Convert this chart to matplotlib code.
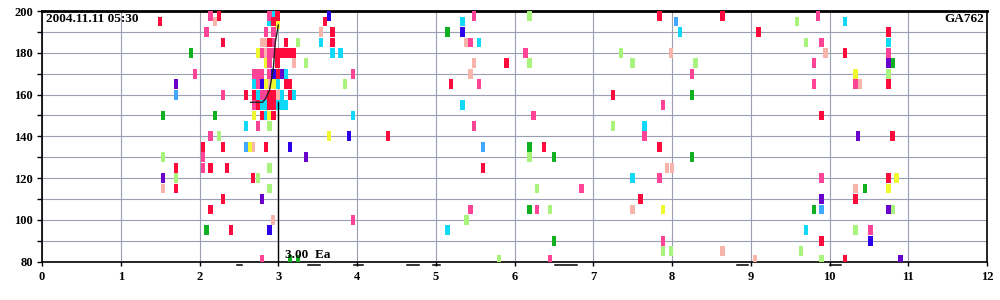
import matplotlib
matplotlib.use("Agg")
import matplotlib.pyplot as plt

# (frequency MHz, virtual height km) of each echo, grouped by colour
red = [(1.50, 195), (2.25, 197.5), (2.30, 185), (2.04, 135), (2.30, 135), (1.70, 125),
       (2.14, 125), (2.35, 125), (1.70, 115), (2.30, 110), (2.14, 105), (2.40, 95), (2.84, 135),
       (2.99, 197.5), (2.94, 195), (2.89, 185), (3.10, 185),
       (2.99, 180), (3.05, 180), (3.10, 180), (3.15, 180), (3.20, 180),
       (2.99, 175), (2.99, 170), (3.10, 165), (3.15, 165),
       (2.59, 160), (2.69, 160), (2.89, 160), (2.94, 160), (3.15, 160),
       (2.74, 155), (2.89, 155), (2.94, 155), (2.79, 150), (2.94, 150), (2.68, 120),
       (3.59, 195), (3.69, 190), (3.69, 185), (4.39, 140), (5.19, 165), (5.90, 175),
       (5.60, 125), (6.37, 135), (7.25, 160), (7.84, 197.5), (7.84, 135), (7.60, 110),
       (8.64, 197.5), (9.10, 190), (10.75, 190), (10.20, 180), (10.75, 165), (9.90, 150),
       (10.80, 140), (10.75, 120), (10.33, 110), (9.90, 90), (10.20, 81)]
pink = [(2.14, 197.5), (2.09, 190), (1.94, 170), (2.30, 160), (2.14, 140), (2.04, 130),
        (2.04, 125), (2.79, 81), (2.89, 197.5), (2.84, 190), (2.94, 190), (2.94, 185),
        (2.79, 180), (2.89, 180), (2.94, 180), (2.89, 175), (2.69, 170), (2.74, 170),
        (2.79, 170), (2.89, 170), (2.74, 165), (2.79, 160), (2.84, 160), (2.69, 155),
        (2.74, 145), (3.95, 170), (3.95, 100), (5.44, 105), (5.49, 197.5), (5.44, 185),
        (5.55, 165), (6.14, 180), (7.89, 155), (6.24, 150), (5.49, 145), (7.65, 140),
        (7.84, 120), (6.85, 115), (6.29, 105), (7.89, 90), (6.45, 81), (9.85, 197.5),
        (9.90, 185), (10.75, 180), (8.25, 170), (9.80, 175), (9.80, 165), (10.33, 165),
        (9.90, 120), (10.52, 95)]
salmon = [(2.20, 195), (1.54, 115), (2.93, 100), (2.68, 135), (2.79, 185), (2.84, 185),
          (2.84, 180), (3.20, 175), (2.89, 165), (2.99, 160), (3.54, 190), (5.39, 185),
          (7.99, 180), (5.49, 175), (5.44, 170), (7.94, 125), (8.00, 125), (7.50, 105),
          (9.95, 180), (10.38, 165), (10.33, 115), (8.64, 85), (9.05, 81)]
cyan = [(2.94, 197.5), (2.89, 195), (3.10, 170), (2.69, 165), (2.99, 165), (2.74, 160),
        (3.05, 160), (3.20, 160), (2.79, 155), (2.84, 155), (2.99, 155), (3.05, 155),
        (3.10, 155), (2.84, 150), (2.59, 145), (3.54, 185), (3.69, 180), (3.79, 180),
        (3.95, 150), (5.15, 95), (5.34, 195), (5.55, 185), (5.34, 155), (7.65, 145),
        (7.50, 120), (8.10, 190), (10.20, 195), (10.75, 185), (9.70, 95)]
light_blue = [(1.70, 160), (2.59, 135), (5.60, 135), (8.05, 195), (9.90, 105)]
green = [(1.89, 180), (1.54, 150), (2.20, 150), (2.09, 95), (3.15, 81), (3.25, 81),
         (5.15, 190), (6.19, 135), (6.50, 130), (6.19, 105), (6.50, 90), (8.25, 160),
         (8.25, 130), (10.80, 175), (10.45, 115), (9.80, 105)]
light_green = [(2.25, 140), (1.54, 130), (1.70, 120), (2.74, 120), (2.89, 125), (2.89, 115),
               (2.89, 145), (3.25, 185), (3.35, 175), (3.85, 165), (5.39, 100), (6.19, 197.5),
               (7.35, 180), (6.19, 175), (7.50, 175), (7.25, 145), (6.19, 130), (6.29, 115),
               (6.45, 105), (7.89, 85), (7.99, 85), (5.80, 81), (9.59, 195), (9.70, 185),
               (8.30, 175), (10.75, 170), (10.80, 105), (10.33, 95), (9.64, 85), (9.90, 81)]
yellow = [(2.99, 194), (2.74, 180), (2.84, 175), (2.84, 165), (2.94, 165), (2.69, 150),
          (2.89, 150), (2.64, 135), (3.64, 140), (7.89, 105), (10.33, 170), (10.85, 120),
          (10.75, 115)]
blue = [(2.89, 95), (3.64, 197.5), (2.94, 170), (2.79, 165), (3.15, 135), (3.90, 140),
        (5.34, 190), (10.52, 90)]
purple = [(1.70, 165), (1.54, 120), (2.79, 110), (3.35, 130), (3.05, 170), (10.75, 175),
          (10.36, 140), (9.90, 110), (10.75, 105), (10.90, 81)]

# trace curve and marker lines
trace_f = [2.65, 2.80, 2.84, 2.89, 2.94, 2.96, 2.99, 3.00]
trace_h = [156.3, 156.3, 158.2, 162.2, 173.4, 184.5, 190.9, 193.3]
cut_f = 3.00
cut_h = 156.5
dashes = [(2.48, 2.54), (3.38, 3.53), (3.96, 4.08), (4.63, 4.79), (4.96, 5.05),
          (6.52, 6.79), (8.82, 8.96), (10.00, 10.14)]

groups = [(light_green, '#a8f47c'), (salmon, '#f8b4aa'), (green, '#10b020'),
          (light_blue, '#40a8ff'), (cyan, '#10d8f8'), (yellow, '#f0f830'),
          (pink, '#ff4498'), (red, '#ff0a3c'), (purple, '#6a00cc'), (blue, '#2c00e8')]

serif = {'family': 'Liberation Serif', 'weight': 'bold'}

fig = plt.figure(figsize=(10, 3), dpi=100)
ax = fig.add_axes([0.042, 0.128, 0.945, 0.835])

for pts, col in groups:
    f = [p[0] for p in pts]
    h = [p[1] for p in pts]
    ax.bar(f, 4.7, bottom=[v - 2.35 for v in h], width=0.054, color=col,
           linewidth=0, zorder=3)

ax.plot(trace_f, trace_h, color='#202020', lw=1.0, zorder=4)
ax.plot([cut_f, cut_f], [80, cut_h], color='black', lw=1.0, zorder=4)
for a, b in dashes:
    ax.plot([a, b], [78.6, 78.6], color='black', lw=1.1, clip_on=False)

ax.set_xlim(0, 12)
ax.set_ylim(80, 200)
ax.set_xticks(range(0, 13))
ax.set_yticks(range(80, 201, 20))
ax.set_yticks(range(80, 201, 10), minor=True)
ax.grid(True, which='both', color='#9a9fb4', lw=0.8, zorder=1)
ax.set_axisbelow(True)
ax.tick_params(axis='x', direction='out', length=3, width=1, pad=4)
ax.tick_params(axis='y', which='both', direction='out', length=3.5, width=1, pad=3)
for lab in ax.get_xticklabels() + ax.get_yticklabels():
    lab.set_fontfamily('Liberation Serif')
    lab.set_fontweight('bold')
    lab.set_fontsize(9)
for s in ax.spines.values():
    s.set_linewidth(1.2)
ax.spines['top'].set_linewidth(2)

ax.text(0.004, 0.992, '2004.11.11 05:30', transform=ax.transAxes, ha='left', va='top',
        fontsize=9.5, fontdict=serif)
ax.text(0.997, 0.992, 'GA762', transform=ax.transAxes, ha='right', va='top',
        fontsize=9.5, fontdict=serif)
ax.text(3.08, 80.3, '3.00  Ea', ha='left', va='bottom', fontsize=9.5, fontdict=serif, zorder=5)

plt.savefig('out.png')
